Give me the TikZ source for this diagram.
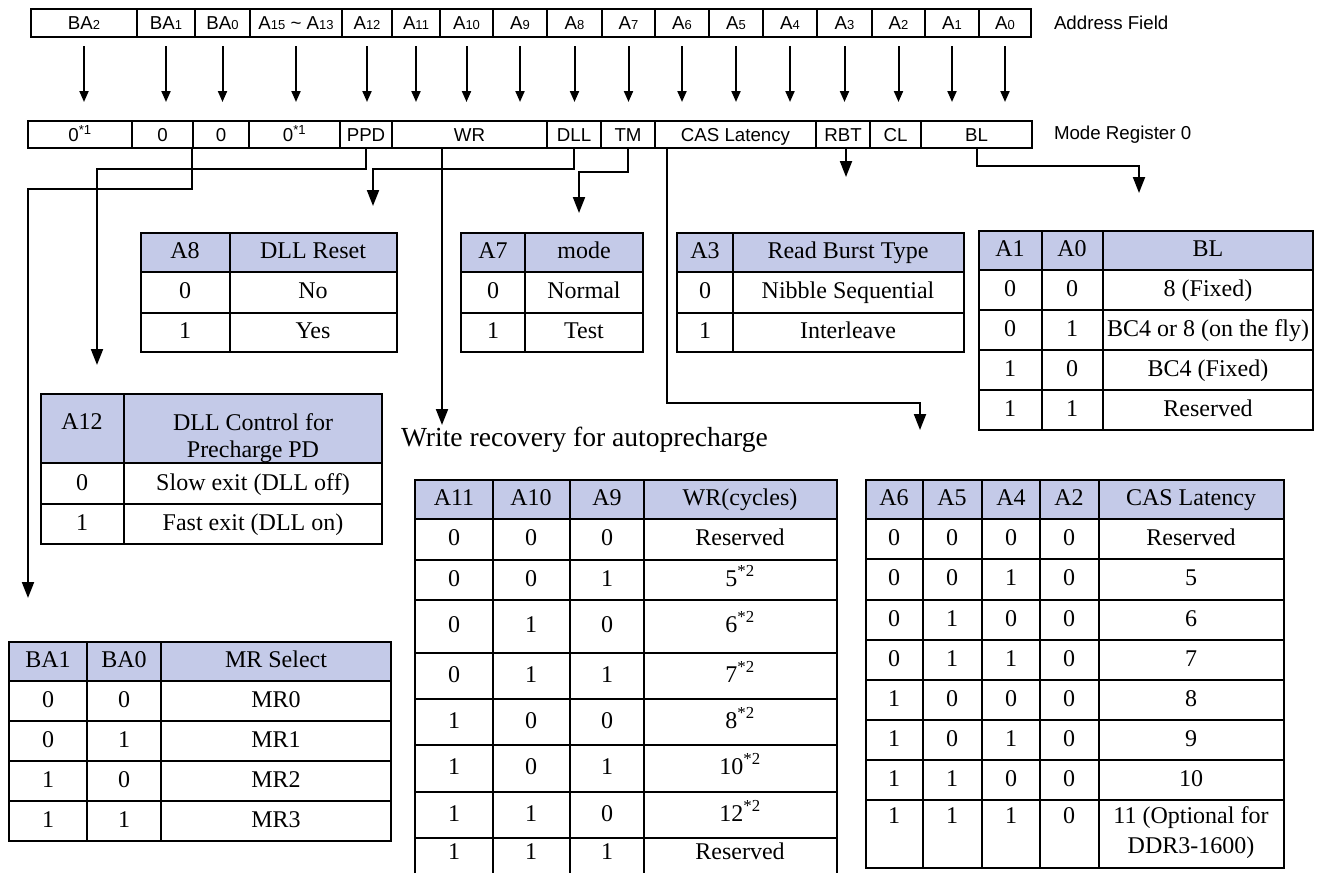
\documentclass[tikz,border=0pt]{standalone}
\usepackage{fontspec}
\setmainfont{Liberation Serif}
\newfontfamily\arialfont{Liberation Sans}
\usetikzlibrary{arrows.meta,positioning,calc}

\definecolor{headblue}{RGB}{196,202,232}
% small index digits and superscripts
\newcommand{\lo}[1]{{\fontsize{13}{13}\selectfont #1}}
\newcommand{\hi}[1]{\textsuperscript{#1}}

\begin{document}
\begin{tikzpicture}[x=1pt,y=-1pt,line width=2pt]
\tikzset{
% register fields and table cells
field/.style={draw,inner sep=0,text height=13pt,text depth=0pt,font={\arialfont\fontsize{18.7}{19}\selectfont}},
tabtext/.style={inner sep=0,align=center,text height=16pt,text depth=4pt,font={\fontsize{24}{28}\selectfont}},
head/.style={fill=headblue},
bitarrow/.style={-{Triangle[length=11pt,width=9pt]},shorten <=8pt,shorten >=18pt},
droparrow/.style={-{Triangle[length=16pt,width=12pt]}}
}
\useasboundingbox (0,0) rectangle (1319,873);

% Address field
\foreach \n/\l/\r/\t in {ba2/31/137/BA\lo{2},ba1/137/195/BA\lo{1},ba0/195/250/BA\lo{0},
  a15/250/342/A\lo{15} \textasciitilde{} A\lo{13},a12/342/392/A\lo{12},a11/392/440/A\lo{11},
  a10/440/493/A\lo{10},a9/493/547/A\lo{9},a8/547/602/A\lo{8},a7/602/655/A\lo{7},
  a6/655/709/A\lo{6},a5/709/763/A\lo{5},a4/763/817/A\lo{4},a3/817/872/A\lo{3},
  a2/872/925/A\lo{2},a1/925/979/A\lo{1},a0/979/1031/A\lo{0}}
  \node[field,minimum width={(\r-\l)*1pt},minimum height=28pt] (\n) at ({(\l+\r)/2},23) {\t};

% Mode register 0
\foreach \n/\l/\r/\t in {mba2/28/132/0\hi{*1},mba1/132/193/0,mba0/193/249/0,mhi/249/340/0\hi{*1},
  ppd/340/392/PPD,wr/392/547/WR,dll/547/601/DLL,tm/601/655/TM,cas/655/816/CAS Latency,
  rbt/816/870/RBT,cl/870/921/CL,bl/921/1032/BL}
  \node[field,minimum width={(\r-\l)*1pt},minimum height=27pt] (\n) at ({(\l+\r)/2},134.5) {\t};

\node[right=21pt of a0,inner sep=0,font={\arialfont\fontsize{18.7}{19}\selectfont}] (addrlabel) {Address Field};
\node[right=20pt of bl,inner sep=0,font={\arialfont\fontsize{18.7}{19}\selectfont}] (mrlabel) {Mode Register 0};

% address bits to register
\foreach \n in {ba2,ba1,ba0,a15,a12,a11,a10,a9,a8,a7,a6,a5,a4,a3,a2,a1,a0}
  \draw[bitarrow] (\n.south) -- (\n.south |- mba2.north);

% where the fields point
\coordinate (selend) at (28,598);
\coordinate (pdend) at (97,365);
\coordinate (wrend) at (442,425);
\coordinate (dllend) at (373,206);
\coordinate (tmend) at (579,213);
\coordinate (casend) at (920,430);
\coordinate (rbtend) at (846,177);
\coordinate (blend) at (1139,193);

\draw[droparrow] (mba0.south west) -- ++(0,40) -| (selend);
\draw[droparrow] (ppd.south) -- ++(0,20) -| (pdend);
\draw[droparrow] (wr.south -| wrend) -- (wrend);
\draw[droparrow] (dll.south) -- ++(0,20) -| (dllend);
\draw[droparrow] (tm.south) -- ++(0,23) -| (tmend);
\draw[droparrow] ($(cas.south west)+(13,0)$) -- ++(0,254) -| (casend);
\draw[droparrow] (rbt.south -| rbtend) -- (rbtend);
\draw[droparrow] (bl.south) -- ++(0,17) -| (blend);

% A8: DLL reset
\fill[head] (141,233) rectangle (397,272);
\draw (141,233) rectangle (397,352) (230,233) -- (230,352) (141,272) -- (397,272) (141,313) -- (397,313);
\foreach \y/\p/\q [count=\i] in {252/A8/DLL Reset,292/0/No,332/1/Yes}{
  \node[tabtext] (rst\i-a) at (185,\y) {\p};
  \node[tabtext] (rst\i-b) at (313,\y) {\q};
}

% A7: mode
\fill[head] (461,233) rectangle (643,272);
\draw (461,233) rectangle (643,352) (525,233) -- (525,352) (461,272) -- (643,272) (461,313) -- (643,313);
\foreach \y/\p/\q [count=\i] in {252/A7/mode,292/0/Normal,332/1/Test}{
  \node[tabtext] (tst\i-a) at (493,\y) {\p};
  \node[tabtext] (tst\i-b) at (584,\y) {\q};
}

% A3: read burst type
\fill[head] (677,233) rectangle (964,272);
\draw (677,233) rectangle (964,352) (733,233) -- (733,352) (677,272) -- (964,272) (677,313) -- (964,313);
\foreach \y/\p/\q [count=\i] in {252/A3/Read Burst Type,292/0/Nibble Sequential,332/1/Interleave}{
  \node[tabtext] (rbt\i-a) at (705,\y) {\p};
  \node[tabtext] (rbt\i-b) at (848,\y) {\q};
}

% A1 A0: burst length
\fill[head] (979,231) rectangle (1313,270);
\draw (979,231) rectangle (1313,430) (1042,231) -- (1042,430) (1103,231) -- (1103,430);
\foreach \y in {270,310,350,390} \draw (979,\y) -- (1313,\y);
\foreach \y/\p/\q/\s [count=\i] in {250/A1/A0/BL,290/0/0/8 (Fixed),330/0/1/BC4 or 8 (on the fly),
  370/1/0/BC4 (Fixed),410/1/1/Reserved}{
  \node[tabtext] (bl\i-a) at (1010,\y) {\p};
  \node[tabtext] (bl\i-b) at (1072,\y) {\q};
  \node[tabtext] (bl\i-c) at (1208,\y) {\s};
}

% A12: precharge power down
\fill[head] (41,394) rectangle (382,463);
\draw (41,394) rectangle (382,544) (124,394) -- (124,544) (41,463) -- (382,463) (41,504) -- (382,504);
\node[tabtext] (pd0-a) at (82,423) {A12};
\node[tabtext] (pd0-b) at (253,424) {DLL Control for};
\node[tabtext] (pd0-c) at (253,451) {Precharge PD};
\foreach \y/\p/\q [count=\i] in {484/0/Slow exit (DLL off),524/1/Fast exit (DLL on)}{
  \node[tabtext] (pd\i-a) at (82,\y) {\p};
  \node[tabtext] (pd\i-b) at (253,\y) {\q};
}

% BA1 BA0: MR select
\fill[head] (9,642) rectangle (391,681);
\draw (9,642) rectangle (391,841) (87,642) -- (87,841) (161,642) -- (161,841);
\foreach \y in {681,721,761,801} \draw (9,\y) -- (391,\y);
\foreach \y/\p/\q/\s [count=\i] in {661/BA1/BA0/MR Select,701/0/0/MR0,741/0/1/MR1,781/1/0/MR2,821/1/1/MR3}{
  \node[tabtext] (sel\i-a) at (48,\y) {\p};
  \node[tabtext] (sel\i-b) at (124,\y) {\q};
  \node[tabtext] (sel\i-c) at (276,\y) {\s};
}

% A11 A10 A9: write recovery
\node[anchor=west,inner sep=0,font={\fontsize{27.6}{30}\selectfont}] (wrtitle) at (400,440) {Write recovery for autoprecharge};
\fill[head] (415,480) rectangle (837,519);
\draw (415,873) -- (415,480) -- (837,480) -- (837,873);
\foreach \x in {493,570,644} \draw (\x,480) -- (\x,873);
\foreach \y in {519,560,600,653,699,745,792,838} \draw (415,\y) -- (837,\y);
\foreach \y/\p/\q/\s/\t [count=\i] in {499/A11/A10/A9/WR(cycles),539/0/0/0/Reserved,580/0/0/1/5\hi{*2},
  626/0/1/0/6\hi{*2},676/0/1/1/7\hi{*2},722/1/0/0/8\hi{*2},768/1/0/1/10\hi{*2},815/1/1/0/12\hi{*2},
  853/1/1/1/Reserved}{
  \node[tabtext] (wr\i-a) at (454,\y) {\p};
  \node[tabtext] (wr\i-b) at (531,\y) {\q};
  \node[tabtext] (wr\i-c) at (607,\y) {\s};
  \node[tabtext] (wr\i-d) at (740,\y) {\t};
}

% A6 A5 A4 A2: CAS latency
\fill[head] (866,480) rectangle (1284,519);
\draw (866,480) rectangle (1284,868);
\foreach \x in {923,982,1040,1099} \draw (\x,480) -- (\x,868);
\foreach \y in {519,559,600,640,680,720,760,800} \draw (866,\y) -- (1284,\y);
\foreach \y/\p/\q/\s/\t/\u [count=\i] in {499/A6/A5/A4/A2/CAS Latency,539/0/0/0/0/Reserved,
  579/0/0/1/0/5,620/0/1/0/0/6,660/0/1/1/0/7,700/1/0/0/0/8,740/1/0/1/0/9,780/1/1/0/0/10,817/1/1/1/0/11 (Optional for}{
  \node[tabtext] (cl\i-a) at (894,\y) {\p};
  \node[tabtext] (cl\i-b) at (952,\y) {\q};
  \node[tabtext] (cl\i-c) at (1011,\y) {\s};
  \node[tabtext] (cl\i-d) at (1069,\y) {\t};
  \node[tabtext] (cl\i-e) at (1191,\y) {\u};
}
\node[tabtext] (cl9-f) at (1191,847) {DDR3-1600)};
\end{tikzpicture}
\end{document}
